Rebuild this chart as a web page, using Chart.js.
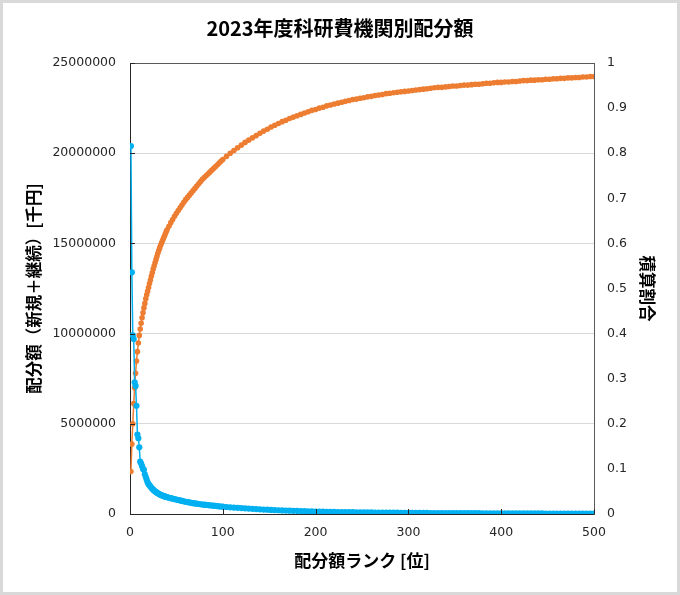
<!DOCTYPE html>
<html>
<head>
<meta charset="utf-8">
<script src="https://cdn.jsdelivr.net/npm/chart.js@4/dist/chart.umd.min.js"></script>
<style>
  html, body { margin: 0; padding: 0; background: #fff; }
  #wrap { width: 680px; height: 595px; position: relative; }
</style>
</head>
<body>
<div id="wrap"><canvas id="rankChart"></canvas></div>
<script>
// rank of each institution (x)
const ranks = [
  1,2,3,4,5,6,7,8,9,10,11,12,13,14,15,16,17,18,19,20,
  21,22,23,24,25,26,27,28,29,30,31,32,33,34,35,36,37,38,39,40,
  42,44,46,48,50,52,54,56,58,60,62,64,66,68,70,72,74,76,78,80,
  82,84,86,88,90,92,94,96,98,100,
  104,108,112,116,120,124,128,132,136,140,144,148,152,156,160,164,168,172,176,180,
  184,188,192,196,200,204,208,212,216,220,224,228,232,236,240,244,248,252,256,260,
  264,268,272,276,280,284,288,292,296,300,304,308,312,316,320,324,328,332,336,340,
  344,348,352,356,360,364,368,372,376,380,384,388,392,396,400,404,408,412,416,420,
  424,428,432,436,440,444,448,452,456,460,464,468,472,476,480,484,488,492,496,500
];

// allocation (new + continuing), thousand yen
const allocation = [
  20400000,13400000,9900000,9700000,7300000,7100000,6000000,4400000,4200000,3700000,
  2900000,2800000,2650000,2500000,2450000,2200000,2050000,1900000,1750000,1650000,
  1600000,1520000,1450000,1400000,1350000,1300000,1260000,1220000,1180000,1150000,
  1120000,1090000,1060000,1040000,1020000,1000000,980000,960000,945000,930000,
  900000,875000,850000,825000,800000,775000,750000,725000,700000,680000,
  660000,640000,620000,600000,585000,570000,555000,540000,527000,515000,
  503000,492000,481000,470000,459000,448000,437000,426000,415000,405000,
  388000,372000,356000,341000,326000,312000,298000,285000,272000,260000,
  248000,237000,226000,216000,207000,198000,190000,182000,175000,168000,
  161000,155000,149000,143000,138000,133000,128000,124000,120000,116000,
  112000,108000,105000,102000,99000,96000,93000,90000,88000,85000,
  83000,81000,79000,77000,75000,73000,71000,69000,67000,65000,
  63500,62000,60500,59000,57500,56000,55000,54000,53000,52000,
  51000,50000,49000,48000,47000,46000,45000,44000,43000,42000,
  41000,40000,39000,38000,37000,36500,36000,35000,34500,34000,
  33000,32500,32000,31000,30500,30000,29000,28500,28000,27500,
  27000,26500,26000,25500,25000,24500,24000,23500,23000,22500
];

// cumulative share (right axis)
const cumulative = [
  0.094,0.155,0.200,0.245,0.280,0.312,0.339,0.360,0.379,0.396,
  0.410,0.423,0.435,0.446,0.457,0.467,0.477,0.486,0.494,0.502,
  0.511,0.519,0.527,0.535,0.543,0.550,0.557,0.564,0.571,0.578,
  0.584,0.590,0.596,0.601,0.606,0.611,0.616,0.621,0.626,0.630,
  0.638,0.646,0.653,0.660,0.667,0.673,0.679,0.685,0.691,0.697,
  0.702,0.707,0.712,0.717,0.722,0.727,0.732,0.737,0.742,0.746,
  0.750,0.754,0.758,0.762,0.766,0.770,0.774,0.778,0.782,0.786,
  0.793,0.800,0.806,0.812,0.818,0.824,0.829,0.834,0.839,0.844,
  0.849,0.853,0.858,0.862,0.866,0.870,0.873,0.877,0.880,0.883,
  0.886,0.889,0.892,0.895,0.897,0.900,0.902,0.905,0.907,0.909,
  0.911,0.913,0.915,0.917,0.919,0.920,0.922,0.923,0.925,0.926,
  0.928,0.929,0.930,0.932,0.933,0.934,0.935,0.936,0.937,0.938,
  0.939,0.940,0.941,0.942,0.943,0.944,0.945,0.946,0.946,0.947,
  0.948,0.949,0.949,0.950,0.951,0.951,0.952,0.953,0.953,0.954,
  0.955,0.955,0.956,0.957,0.957,0.958,0.958,0.959,0.959,0.960,
  0.961,0.961,0.962,0.962,0.963,0.963,0.964,0.964,0.965,0.965,
  0.966,0.966,0.967,0.967,0.968,0.968,0.969,0.969,0.970,0.970
];

const tickFont = { family: "'DejaVu Sans', Verdana, sans-serif", size: 12.5 };
const jpBold = (size) => ({ family: "'Noto Sans CJK JP', sans-serif", size: size, weight: "bold" });

// frame, plot box top edge and inside tick marks (Excel style)
const framePlugin = {
  id: "frame",
  beforeDraw(chart) {
    const ctx = chart.ctx;
    ctx.save();
    ctx.fillStyle = "#fff";
    ctx.fillRect(0, 0, chart.width, chart.height);
    ctx.restore();
  },
  afterDraw(chart) {
    const { ctx, chartArea: a, scales } = chart;
    ctx.save();
    ctx.strokeStyle = "#d9d9d9";
    ctx.lineWidth = 3;
    ctx.strokeRect(1.5, 1.5, chart.width - 3, chart.height - 3);

    ctx.strokeStyle = "#595959";
    ctx.lineWidth = 1;
    ctx.beginPath();
    ctx.moveTo(a.left, Math.round(a.top) + 0.5);
    ctx.lineTo(a.right, Math.round(a.top) + 0.5);
    ctx.stroke();

    ctx.strokeStyle = "#262626";
    ctx.beginPath();
    scales.x.ticks.forEach((t) => {
      const px = Math.round(scales.x.getPixelForValue(t.value)) + 0.5;
      ctx.moveTo(px, a.bottom);
      ctx.lineTo(px, a.bottom - 5);
    });
    scales.y.ticks.forEach((t) => {
      const py = Math.round(scales.y.getPixelForValue(t.value)) + 0.5;
      ctx.moveTo(a.left, py);
      ctx.lineTo(a.left + 5, py);
    });
    ctx.stroke();
    ctx.restore();
  },
};

const ctx = document.getElementById("rankChart").getContext("2d");
new Chart(ctx, {
  type: "line",
  data: {
    datasets: [
      {
        label: "配分額",
        data: ranks.map((r, i) => ({ x: r, y: allocation[i] })),
        yAxisID: "y",
        borderColor: "#00b0f0",
        backgroundColor: "#00b0f0",
        borderWidth: 1.5,
        pointRadius: 3.1,
        pointBorderWidth: 0,
        pointBackgroundColor: "#00b0f0",
        tension: 0,
      },
      {
        label: "積算割合",
        data: ranks.map((r, i) => ({ x: r, y: cumulative[i] })),
        yAxisID: "y2",
        borderColor: "#ed7d31",
        backgroundColor: "#ed7d31",
        borderWidth: 1.5,
        pointRadius: 2.8,
        pointBorderWidth: 0,
        pointBackgroundColor: "#ed7d31",
        tension: 0,
      },
    ],
  },
  options: {
    responsive: true,
    maintainAspectRatio: false,
    animation: false,
    layout: { padding: 0 },
    plugins: {
      legend: { display: false },
      tooltip: { enabled: false },
      title: {
        display: true,
        text: "2023年度科研費機関別配分額",
        font: jpBold(20),
        color: "#000",
        padding: { top: 16, bottom: 23 },
      },
    },
    scales: {
      x: {
        type: "linear",
        min: 0,
        max: 500,
        afterFit: (s) => { s.height = 81; },
        ticks: { stepSize: 100, font: tickFont, color: "#262626", padding: 11, maxRotation: 0 },
        grid: { display: false, drawTicks: false },
        border: { color: "#262626", width: 1 },
        title: {
          display: true,
          text: "配分額ランク [位]",
          font: jpBold(17),
          color: "#000",
          padding: { bottom: 24 },
        },
      },
      y: {
        position: "left",
        min: 0,
        max: 25000000,
        afterFit: (s) => { s.width = 130; },
        ticks: {
          stepSize: 5000000,
          font: tickFont,
          color: "#262626",
          padding: 14,
          callback: (v) => String(v),
        },
        grid: { color: "#d9d9d9", lineWidth: 1, drawTicks: false },
        border: { color: "#262626", width: 1 },
        title: {
          display: true,
          text: "配分額（新規＋継続）[千円]",
          font: jpBold(16.5),
          color: "#000",
          padding: { top: 24 },
        },
      },
      y2: {
        position: "right",
        min: 0,
        max: 1,
        afterFit: (s) => { s.width = 86; },
        ticks: {
          stepSize: 0.1,
          font: tickFont,
          color: "#262626",
          padding: 13,
          callback: (v) => String(Math.round(v * 10) / 10),
        },
        grid: { display: false, drawTicks: false },
        border: { color: "#595959", width: 1 },
        title: {
          display: true,
          text: "積算割合",
          font: jpBold(16.5),
          color: "#000",
          padding: { top: 23 },
        },
      },
    },
  },
  plugins: [framePlugin],
});
</script>
</body>
</html>
